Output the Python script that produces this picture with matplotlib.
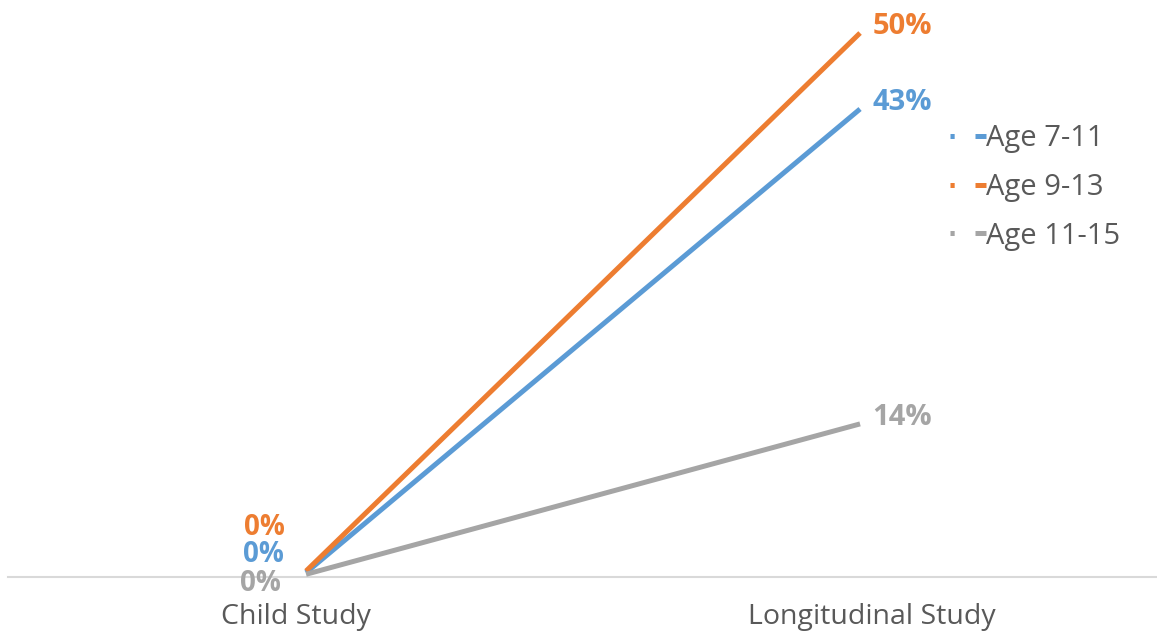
import matplotlib
matplotlib.use("Agg")
import matplotlib.pyplot as plt
import matplotlib.transforms as mtransforms
from matplotlib.lines import Line2D

plt.rcParams['font.family'] = ['Open Sans', 'DejaVu Sans']
plt.rcParams['lines.scale_dashes'] = False

studies = ["Child Study", "Longitudinal Study"]
groups = ["Age 7-11", "Age 9-13", "Age 11-15"]
colors = ["#5B9BD5", "#ED7D31", "#A5A5A5"]
age_7_11 = [0.003, 0.43]
age_9_13 = [0.0045, 0.50]
age_11_15 = [0.0015, 0.14]
series = [age_7_11, age_9_13, age_11_15]

# where the "0%" labels sit relative to the first point (points)
start_offsets = [(-16, 13), (-15, 31), (-18, -6.5)]

fig = plt.figure(figsize=(11.57, 6.37), dpi=100)
ax = fig.add_axes([8 / 1157, 60 / 637, 1149 / 1157, 577 / 637])

x = list(range(len(studies)))
draw_order = [2, 0, 1]
for i in draw_order:
    ax.plot(x, series[i], color=colors[i], lw=3.6, solid_capstyle='butt', zorder=3 + i)

for i, vals in enumerate(series):
    ax.annotate(f"{vals[0]:.0%}", (x[0], vals[0]), xytext=start_offsets[i],
                textcoords='offset points', ha='right', va='center',
                color=colors[i], fontsize=20, fontweight='bold')
    ax.annotate(f"{vals[1]:.0%}", (x[1], vals[1]), xytext=(9, 4.5),
                textcoords='offset points', ha='left', va='center',
                color=colors[i], fontsize=21, fontweight='bold')

ax.set_xlim(-0.538, 1.536)
ax.set_ylim(-0.001, 0.5304)
ax.set_xticks(x)
ax.set_xticklabels(studies, fontsize=20.5, color="#595959")
ax.tick_params(axis='x', length=0, pad=19)
# category labels sit centred in their half of the axis
for lbl, dx in zip(ax.get_xticklabels(), [-10, 12]):
    lbl.set_transform(lbl.get_transform() +
                      mtransforms.ScaledTranslation(dx / 100, 0, fig.dpi_scale_trans))
ax.set_yticks([])
for side in ['top', 'left', 'right']:
    ax.spines[side].set_visible(False)
ax.spines['bottom'].set_color("#D9D9D9")
ax.spines['bottom'].set_linewidth(1.5)

handles = [Line2D([], [], color=c, lw=3.6, linestyle=(0, (3, 15, 8, 30)))
           for c in colors]
fig.legend(handles, groups, loc='upper left', bbox_to_anchor=(950 / 1157, 1 - 124 / 637),
           frameon=False, borderpad=0, borderaxespad=0, handlelength=1.24,
           handletextpad=0.0, labelspacing=0.68, fontsize=21, labelcolor="#595959")

fig.savefig("out.png", dpi=100)
